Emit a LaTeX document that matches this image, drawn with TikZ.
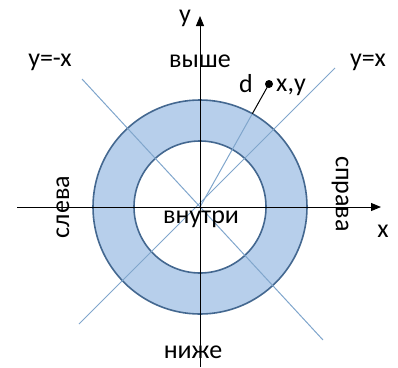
\documentclass[tikz,border=0pt]{standalone}
\usepackage{fontspec}
\setmainfont{Carlito}
\usepackage{tikz}
\usetikzlibrary{arrows.meta,positioning,calc}
\definecolor{ringfill}{RGB}{183,207,235}
\definecolor{ringline}{RGB}{68,104,144}
\definecolor{diagline}{RGB}{128,166,204}
\begin{document}
\begin{tikzpicture}[x=1pt,y=-1pt,
  lbl/.style={inner sep=0pt,font=\fontsize{26}{28}\selectfont},
  axis/.style={line width=1pt,-{Triangle[length=10pt,width=8pt]}},
  diag/.style={diagline,line width=1pt}]
\useasboundingbox (0,0) rectangle (398,367);
\coordinate (O) at (200,207);
% ring
\path[fill=ringfill,even odd rule] (O) circle[radius=107] (O) circle[radius=66];
\draw[ringline,line width=1.6pt] (O) circle[radius=107];
\draw[ringline,line width=1.6pt] (O) circle[radius=66];
% lines y=x and y=-x
\coordinate (a1) at (82,79);
\coordinate (a2) at (323,340);
\coordinate (b1) at (335,68);
\coordinate (b2) at (79,324);
\draw[diag] (a1) -- (a2);
\draw[diag] (b1) -- (b2);
% point and distance
\coordinate (P) at (269,84);
\coordinate (Q) at ($(O)!107pt!(P)$);
\draw[diag] (O) -- (Q);
\draw[line width=1pt] (Q) -- (P);
\fill (P) circle[radius=4];
% axes
\coordinate (xs) at (17,207);
\coordinate (xe) at (381,207);
\coordinate (ys) at (200,367);
\coordinate (ye) at (200,16);
\draw[axis] (xs) -- (xe);
\draw[axis] (ys) -- (ye);
% labels
\node[lbl] (ylab) at (185,18) {y};
\node[lbl] (xlab) at (383,231) {x};
\node[lbl] (ymx) at (50,62) {y=-x};
\node[lbl] (ypx) at (368,62) {y=x};
\node[lbl] (above) at (200,61) {выше};
\node[lbl] (below) at (193,352) {ниже};
\node[lbl] (inside) at (201,219) {внутри};
\node[lbl,rotate=90] (left) at (63,207) {слева};
\node[lbl,rotate=-90] (right) at (340,194) {справа};
\node[lbl] (dlab) at (246,84) {d};
\node[lbl] (xy) at (291,87) {x,y};
\end{tikzpicture}
\end{document}
